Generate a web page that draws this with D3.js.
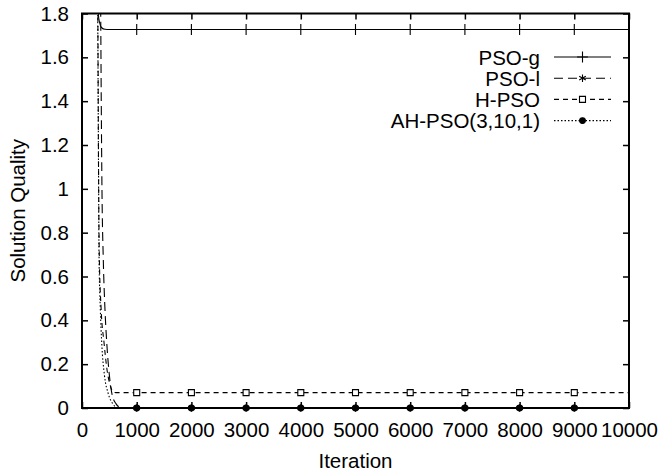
<!DOCTYPE html>
<html>
<head>
<meta charset="utf-8">
<script src="https://cdn.jsdelivr.net/npm/d3@7"></script>
<style>
  body { margin: 0; background: #fff; }
  text { font-family: "Liberation Sans", Arial, Helvetica, sans-serif; fill: #000; }
</style>
</head>
<body>
<div id="chart"></div>
<script>
// === DONNÉES ===
const xTicks = [0, 1000, 2000, 3000, 4000, 5000, 6000, 7000, 8000, 9000, 10000];
const yTicks = [0, 0.2, 0.4, 0.6, 0.8, 1, 1.2, 1.4, 1.6, 1.8];
const markerIters = [1000, 2000, 3000, 4000, 5000, 6000, 7000, 8000, 9000];

const seriesNames = ["PSO-g", "PSO-l", "H-PSO", "AH-PSO(3,10,1)"];

// iterations / valeurs pour chaque courbe
const psoGIter = [250, 280, 298, 320, 360, 420, 500, 1000, 10000];
const psoGVal = [2.6, 2.1, 1.8, 1.76, 1.735, 1.728, 1.727, 1.727, 1.727];

const psoLIter = [320, 342, 352, 365, 389, 420, 452, 500, 543, 620, 726, 1000, 10000];
const psoLVal = [2.4, 1.8, 1.4, 1.0, 0.68, 0.45, 0.3, 0.15, 0.07, 0.02, 0.0, 0.0, 0.0];

const hPsoIter = [270, 290, 300, 316, 350, 402, 460, 520, 572, 650, 1000, 10000];
const hPsoVal = [2.4, 1.8, 1.2, 0.7, 0.45, 0.3, 0.17, 0.1, 0.072, 0.07, 0.07, 0.07];

const ahPsoIter = [265, 287, 300, 311, 335, 360, 410, 475, 560, 664, 1000, 10000];
const ahPsoVal = [2.4, 1.8, 1.2, 0.7, 0.45, 0.3, 0.15, 0.07, 0.02, 0.0, 0.0, 0.0];

const markerVals = [1.727, 0.0, 0.07, 0.0];

// === CONFIGURATION ===
const W = 662, H = 474;
const margin = { top: 13.5, right: 33, bottom: 66, left: 82 };
const width = W - margin.left - margin.right;
const height = H - margin.top - margin.bottom;
const fontSize = "20.5px";

const styles = [
  { dash: null, symbol: d3.symbolPlus, size: 40, fill: "none" },
  { dash: "9,5", symbol: d3.symbolAsterisk, size: 40, fill: "none" },
  { dash: "5,4", symbol: d3.symbolSquare, size: 36, fill: "#fff" },
  { dash: "1.5,2", symbol: d3.symbolCircle, size: 26, fill: "#000" }
];

const curves = [
  psoGIter.map((x, i) => [x, psoGVal[i]]),
  psoLIter.map((x, i) => [x, psoLVal[i]]),
  hPsoIter.map((x, i) => [x, hPsoVal[i]]),
  ahPsoIter.map((x, i) => [x, ahPsoVal[i]])
];

const svg = d3.select("#chart").append("svg")
  .attr("width", W)
  .attr("height", H);

const g = svg.append("g")
  .attr("transform", `translate(${margin.left},${margin.top})`);

const x = d3.scaleLinear().domain([0, 10000]).range([0, width]);
const y = d3.scaleLinear().domain([0, 1.8]).range([height, 0]);

svg.append("defs").append("clipPath")
  .attr("id", "clip")
  .append("rect")
  .attr("width", width)
  .attr("height", height);

// === AXES ===
const tickLen = 6;
const fmtY = d => d3.format("~g")(d);

const axB = g.append("g")
  .attr("transform", `translate(0,${height})`)
  .call(d3.axisBottom(x).tickValues(xTicks).tickSize(-tickLen).tickPadding(14).tickFormat(d3.format("d")));
const axL = g.append("g")
  .call(d3.axisLeft(y).tickValues(yTicks).tickSize(-tickLen).tickPadding(13).tickFormat(fmtY));
const axT = g.append("g")
  .call(d3.axisTop(x).tickValues(xTicks).tickSize(-tickLen).tickFormat(""));
const axR = g.append("g")
  .attr("transform", `translate(${width},0)`)
  .call(d3.axisRight(y).tickValues(yTicks).tickSize(-tickLen).tickFormat(""));

[axB, axL, axT, axR].forEach(a => {
  a.select(".domain").remove();
  a.selectAll("line").attr("stroke", "#000").attr("stroke-width", 1.5);
  a.selectAll("text").style("font-size", fontSize).attr("fill", "#000");
});

// cadre
g.append("rect")
  .attr("width", width)
  .attr("height", height)
  .attr("fill", "none")
  .attr("stroke", "#000")
  .attr("stroke-width", 2);

// titres des axes
g.append("text")
  .attr("x", width / 2)
  .attr("y", height + 60)
  .attr("text-anchor", "middle")
  .style("font-size", fontSize)
  .text("Iteration");

g.append("text")
  .attr("transform", "rotate(-90)")
  .attr("x", -height / 2)
  .attr("y", -57.5)
  .attr("text-anchor", "middle")
  .style("font-size", fontSize)
  .text("Solution Quality");

// === COURBES ===
const line = d3.line()
  .x(d => x(d[0]))
  .y(d => y(d[1]))
  .curve(d3.curveMonotoneX);

const plot = g.append("g").attr("clip-path", "url(#clip)");

curves.forEach((c, i) => {
  plot.append("path")
    .datum(c)
    .attr("fill", "none")
    .attr("stroke", "#000")
    .attr("stroke-width", 1.1)
    .attr("stroke-dasharray", styles[i].dash)
    .attr("d", line);
});

// marqueurs
curves.forEach((c, i) => {
  const sym = d3.symbol().type(styles[i].symbol).size(styles[i].size);
  g.selectAll(".m" + i)
    .data(markerIters)
    .enter()
    .append("path")
    .attr("class", "m" + i)
    .attr("transform", d => `translate(${x(d)},${y(markerVals[i])})`)
    .attr("d", sym)
    .attr("fill", styles[i].fill)
    .attr("stroke", "#000")
    .attr("stroke-width", 1.1);
});

// === LÉGENDE ===
const legend = g.append("g")
  .attr("transform", `translate(${540 - margin.left},${57 - margin.top})`);

seriesNames.forEach((name, i) => {
  const row = legend.append("g").attr("transform", `translate(0,${i * 21.2})`);
  row.append("text")
    .attr("x", 0)
    .attr("y", 0)
    .attr("dy", "0.37em")
    .attr("text-anchor", "end")
    .style("font-size", fontSize)
    .text(name);
  row.append("line")
    .attr("x1", 14)
    .attr("x2", 71)
    .attr("stroke", "#000")
    .attr("stroke-width", 1.1)
    .attr("stroke-dasharray", styles[i].dash);
  row.append("path")
    .attr("transform", "translate(42.5,0)")
    .attr("d", d3.symbol().type(styles[i].symbol).size(styles[i].size))
    .attr("fill", styles[i].fill)
    .attr("stroke", "#000")
    .attr("stroke-width", 1.1);
});
</script>
</body>
</html>
